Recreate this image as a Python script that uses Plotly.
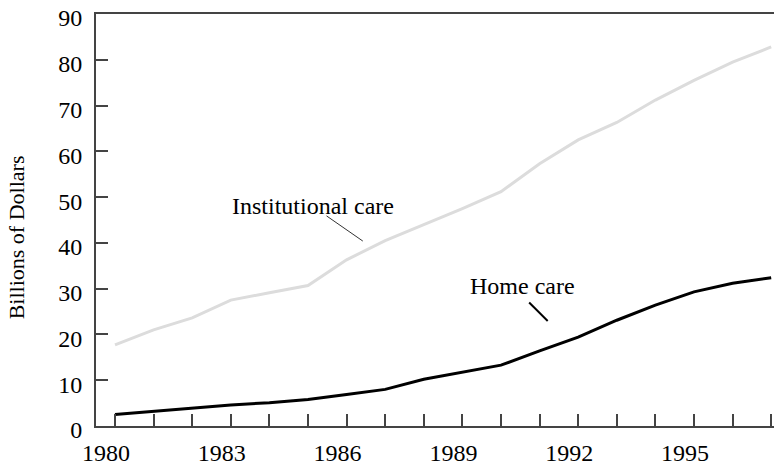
import plotly.graph_objects as go

years = list(range(1980, 1998))
institutional = [17.7, 21.0, 23.6, 27.5, 29.1, 30.7, 36.3, 40.5, 44.0, 47.5, 51.2, 57.3, 62.5, 66.3, 71.2, 75.5, 79.5, 82.8]
home = [2.5, 3.2, 4.0, 4.6, 5.1, 5.8, 6.9, 8.0, 10.2, 11.7, 13.3, 16.4, 19.4, 23.1, 26.4, 29.3, 31.2, 32.4]
x_tick_vals = [1980, 1983, 1986, 1989, 1992, 1995]
y_tick_vals = [0, 10, 20, 30, 40, 50, 60, 70, 80, 90]

FONT = "Liberation Serif"
AXIS_COLOR = "#444444"

fig = go.Figure()
fig.add_trace(go.Scatter(x=years, y=institutional, mode="lines",
                         line=dict(color="#dcdcdc", width=3), name="Institutional care",
                         showlegend=False))
fig.add_trace(go.Scatter(x=years, y=home, mode="lines",
                         line=dict(color="#000000", width=3), name="Home care",
                         showlegend=False))

fig.update_layout(
    width=774, height=458,
    margin=dict(l=88, r=0, t=6, b=40),
    paper_bgcolor="white", plot_bgcolor="white",
    font=dict(family=FONT, size=23, color="black"),
    xaxis=dict(range=[1979.508, 1997.28], tickvals=x_tick_vals, ticktext=[str(v) for v in x_tick_vals],
               ticks="inside", ticklen=12, tickwidth=1.5, tickcolor=AXIS_COLOR,
               minor=dict(dtick=1, tick0=1980, ticks="inside", ticklen=12, tickwidth=1.5, tickcolor=AXIS_COLOR),
               showline=True, linecolor=AXIS_COLOR, linewidth=2, mirror=True,
               showgrid=False, zeroline=False, ticklabelstandoff=4, ticklabelshift=-9,
               automargin=False, ticklabeloverflow="allow",
               tickfont=dict(family=FONT, size=24)),
    yaxis=dict(range=[0, 90], tickvals=y_tick_vals,
               ticks="inside", ticklen=12, tickwidth=1.5, tickcolor=AXIS_COLOR,
               showline=True, linecolor=AXIS_COLOR, linewidth=2,
               showgrid=False, zeroline=False, ticklabelstandoff=7, ticklabelshift=4,
               automargin=False, ticklabeloverflow="allow",
               tickfont=dict(family=FONT, size=24)),
    annotations=[
        dict(text="Institutional care", x=1985.12, y=48.0, xref="x", yref="y",
             showarrow=False, font=dict(family=FONT, size=24)),
        dict(text="Home care", x=1990.57, y=30.5, xref="x", yref="y",
             showarrow=False, font=dict(family=FONT, size=24)),
        dict(text="Billions of Dollars", x=-0.1166, y=0.458, xref="paper", yref="paper",
             xanchor="center", yanchor="middle",
             textangle=-90, showarrow=False, font=dict(family=FONT, size=22)),
    ],
    shapes=[
        dict(type="line", x0=1985.48, y0=45.9, x1=1986.42, y1=40.4, xref="x", yref="y",
             line=dict(color="#333333", width=1)),
        dict(type="line", x0=1990.73, y0=26.98, x1=1991.21, y1=22.95, xref="x", yref="y",
             line=dict(color="#000000", width=2)),
    ],
)

fig.write_html("out.html")
